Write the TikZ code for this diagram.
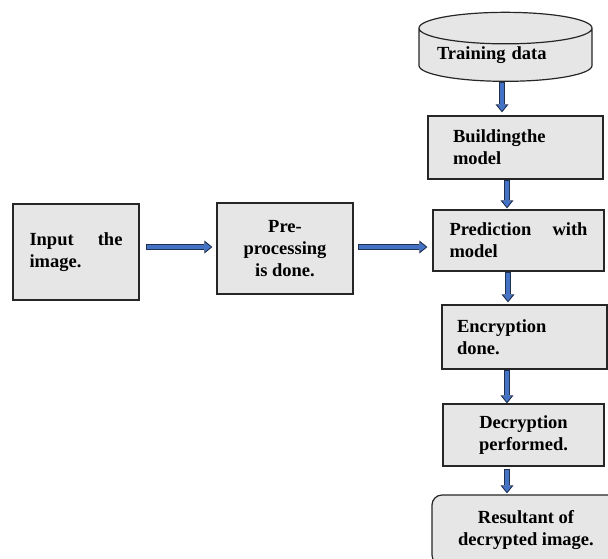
\documentclass[tikz,border=0pt]{standalone}
\usepackage{fontspec}
\setmainfont{Liberation Serif}
\usetikzlibrary{shapes.geometric,arrows.meta}
\definecolor{boxgray}{HTML}{E6E6E6}
\definecolor{arrowblue}{HTML}{4472C4}
\definecolor{arrowdark}{HTML}{1F3050}

\begin{document}
\begin{tikzpicture}[x=1pt,y=-1pt,
    box/.style={draw=black!85, line width=1.2pt, fill=boxgray, inner sep=0pt,
        font=\fontsize{18.5}{22}\selectfont\bfseries},
    flow/.style={line width=6.5pt, draw=arrowdark,
        -{Triangle[length=8pt,width=13pt,line width=0pt]},
        postaction={draw=arrowblue, line width=3.5pt, shorten <=1.2pt, shorten >=1.6pt,
            -{Triangle[length=5.8pt,width=9pt,line width=0pt]}}}]
    \clip (0,0) rectangle (608,558);
    \useasboundingbox (0,0) rectangle (608,558);

    % Training data
    \node[box, cylinder, shape border rotate=90, aspect=0.23, minimum width=173pt,
        minimum height=69pt, text width=137pt, align=left] (data) at (505.5,55) {Training data};

    % right column
    \node[box, minimum width=175pt, minimum height=63pt, text width=125pt, align=left]
        (build) at (515.5,147.5) {Buildingthe\\model};
    \node[box, minimum width=171pt, minimum height=61pt, text width=138pt, align=left]
        (pred) at (518.5,240.5) {Prediction\hfill with\\model};
    \node[box, minimum width=165pt, minimum height=64pt, text width=135pt, align=left]
        (enc) at (524.5,337) {Encryption\\done.};
    \node[box, minimum width=161pt, minimum height=62pt, align=center]
        (dec) at (523.5,435) {Decryption\\performed.};
    \node[box, rounded corners=10pt, minimum width=188pt, minimum height=70pt, align=center]
        (res) at (526,530) {Resultant of\\decrypted image.};

    % left row
    \node[box, minimum width=126pt, minimum height=96pt, text width=93pt, align=left]
        (inp) at (76,252) {Input\hfill the\\image.};
    \node[box, minimum width=136pt, minimum height=91pt, align=center]
        (pre) at (285,248.5) {Pre-\\processing\\is done.};

    % arrows
    \draw[flow] ([xshift=-3.5pt]data.south) -- ([xshift=-3.5pt,yshift=3pt]data.south |- build.north);
    \draw[flow] ([xshift=-8.5pt]build.south) -- ([xshift=-8.5pt,yshift=1pt]build.south |- pred.north);
    \draw[flow] ([xshift=-10.5pt]pred.south) -- ([xshift=-10.5pt,yshift=2pt]pred.south |- enc.north);
    \draw[flow] ([xshift=-17.5pt]enc.south) -- ([xshift=-17.5pt]enc.south |- dec.north);
    \draw[flow] ([xshift=-16.5pt,yshift=-2pt]dec.south) -- ([xshift=-16.5pt,yshift=1pt]dec.south |- res.north);
    \draw[flow] ([xshift=6pt,yshift=5pt]inp.east) -- ([xshift=-4pt,yshift=5pt]inp.east -| pre.west);
    \draw[flow] ([xshift=4pt,yshift=1.5pt]pre.east) -- ([xshift=-5pt,yshift=1.5pt]pre.east -| pred.west);

\end{tikzpicture}
\end{document}
